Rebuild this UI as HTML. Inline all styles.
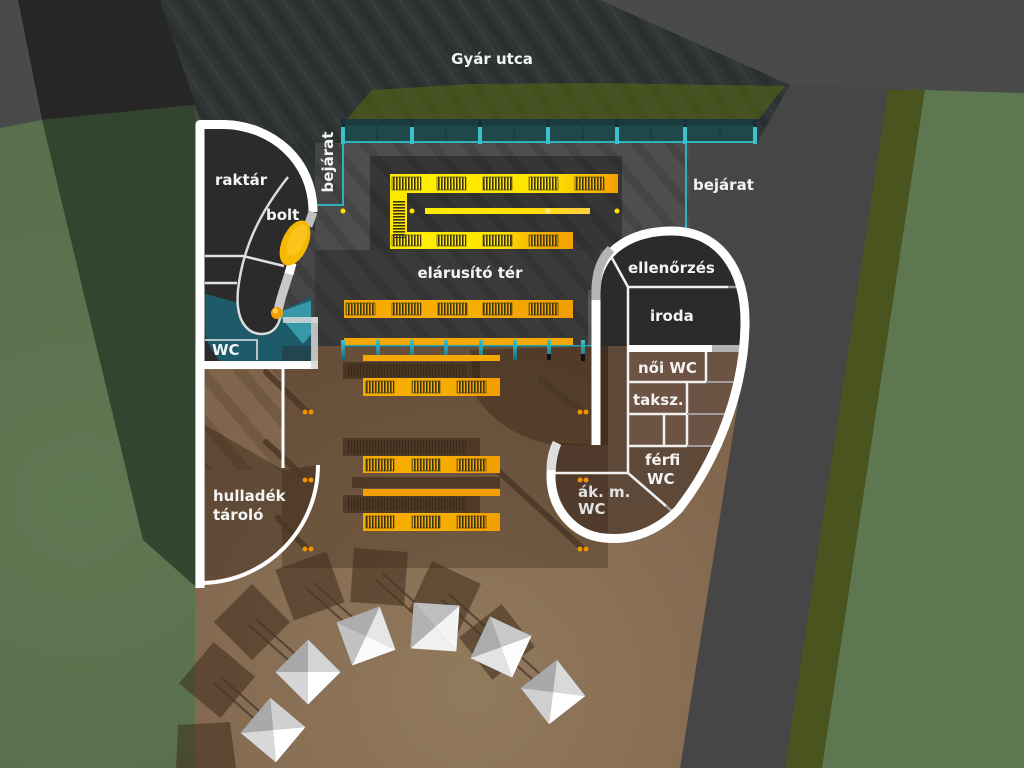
<!DOCTYPE html>
<html><head><meta charset="utf-8">
<style>
html,body{margin:0;padding:0;background:#464646;}
svg{display:block;}
text{font-family:"DejaVu Sans","Liberation Sans",sans-serif;font-weight:bold;fill:#f4f4f4;font-size:15px;}
</style></head><body>
<svg width="1024" height="768" viewBox="0 0 1024 768" xmlns="http://www.w3.org/2000/svg">
<defs>
 <pattern id="st" width="24" height="24" patternUnits="userSpaceOnUse" patternTransform="rotate(-35)">
  <rect width="24" height="24" fill="#303636"/>
  <rect width="8" height="24" fill="#2a3030"/>
  <rect x="14" width="3" height="24" fill="#363c3c"/>
 </pattern>
 <pattern id="st2" width="26" height="26" patternUnits="userSpaceOnUse" patternTransform="rotate(-40)">
  <rect width="9" height="26" fill="#000" fill-opacity="0.11"/>
 </pattern>
 <pattern id="st3" width="30" height="30" patternUnits="userSpaceOnUse" patternTransform="rotate(-40)">
  <rect width="11" height="30" fill="#2a1a0c" fill-opacity="0.18"/>
 </pattern>
 <pattern id="gv" width="3" height="20" patternUnits="userSpaceOnUse">
  <rect width="1.6" height="20" fill="#3b3518"/>
 </pattern>
 <pattern id="gh" width="20" height="3" patternUnits="userSpaceOnUse">
  <rect width="20" height="1.6" fill="#3b3518"/>
 </pattern>
 <pattern id="gs" width="3" height="20" patternUnits="userSpaceOnUse">
  <rect width="1.4" height="20" fill="#2a1c10" fill-opacity="0.5"/>
 </pattern>
 <linearGradient id="yg" x1="0" x2="1" y1="0" y2="0">
  <stop offset="0" stop-color="#fff000"/><stop offset="0.7" stop-color="#ffe400"/><stop offset="1" stop-color="#f5a000"/>
 </linearGradient>
 <linearGradient id="yg2" x1="0" x2="1" y1="0" y2="0">
  <stop offset="0" stop-color="#fff000"/><stop offset="0.6" stop-color="#ffe400"/><stop offset="0.8" stop-color="#f7b000"/><stop offset="1" stop-color="#f5a000"/>
 </linearGradient>
 <linearGradient id="ym" x1="0" x2="1" y1="0" y2="0">
  <stop offset="0" stop-color="#ffec00"/><stop offset="0.6" stop-color="#ffe000"/><stop offset="1" stop-color="#ffd040"/>
 </linearGradient>
 <linearGradient id="og" x1="0" x2="1" y1="0" y2="0">
  <stop offset="0" stop-color="#f5a800"/><stop offset="0.5" stop-color="#f7b000"/><stop offset="1" stop-color="#f29e00"/>
 </linearGradient>
 <linearGradient id="post" x1="0" x2="0" y1="0" y2="1">
  <stop offset="0" stop-color="#3ec0ca"/><stop offset="1" stop-color="#1a6a78"/>
 </linearGradient>
 <radialGradient id="pl" cx="470" cy="690" r="360" gradientUnits="userSpaceOnUse">
  <stop offset="0" stop-color="#927a5d"/><stop offset="1" stop-color="#80654c"/>
 </radialGradient>
 <radialGradient id="gl" cx="80" cy="500" r="300" gradientUnits="userSpaceOnUse">
  <stop offset="0" stop-color="#5f7852"/><stop offset="1" stop-color="#58704c"/>
 </radialGradient>
 <clipPath id="rb"><path d="M596,445 L596,292 C596,252 630,231 672,231 C718,231 746,268 745,325 C744,392 716,462 678,510 C656,532 632,541 604,538 C574,535 552,510 551,478 C551,462 553,452 557,443 Z"/></clipPath>
 <clipPath id="wcclip"><rect x="205" y="285" width="106" height="76"/></clipPath>
</defs>

<rect width="1024" height="768" fill="#464646"/>
<polygon points="600,0 1024,0 1024,92 925,90 790,85" fill="#4a4a4a"/>

<polygon points="160,0 600,0 790,85 757,143 315,143 315,232 200,118" fill="url(#st)"/>
<polygon points="18,0 160,0 200,118 195,106 42,120" fill="#262626"/>
<polygon points="0,0 18,0 42,120 0,128" fill="#4a4a4a"/>

<polygon points="0,128 42,120 195,105 195,768 0,768" fill="url(#gl)"/>
<polygon points="42,120 195,105 195,586 143,540" fill="#33452f"/>

<polygon points="888,90 925,90 822,768 785,768" fill="#4a541e"/>
<polygon points="925,90 1024,93 1024,768 822,768" fill="#5d7750"/>

<polygon points="195,346 747,346 680,768 195,768" fill="url(#pl)"/>

<rect x="343" y="143" width="347" height="107" fill="#4e4e4e"/>
<rect x="315" y="205" width="28" height="45" fill="#4b4b4b"/>
<rect x="370" y="156" width="252" height="94" fill="#363636"/>
<rect x="315" y="250" width="285" height="96" fill="#3a3a3a"/>
<rect x="280" y="143" width="410" height="203" fill="url(#st2)"/>

<polygon points="345,121 372,90 470,84 600,83 785,86 757,121" fill="#5a6a10" fill-opacity="0.55"/>

<rect x="343" y="119" width="414" height="24" fill="#1f4949"/>
<rect x="343" y="119" width="414" height="6" fill="#1a3b3e"/>
<g stroke="#163838" stroke-width="1">
 <line x1="377" y1="125" x2="377" y2="141"/><line x1="446" y1="125" x2="446" y2="141"/><line x1="514" y1="125" x2="514" y2="141"/>
 <line x1="583" y1="125" x2="583" y2="141"/><line x1="651" y1="125" x2="651" y2="141"/><line x1="720" y1="125" x2="720" y2="141"/>
</g>
<rect x="343" y="141" width="414" height="2" fill="#2fb3bf"/>
<g>
 <rect x="341" y="119" width="4" height="8" fill="#1b2e3c"/><rect x="341" y="127" width="4" height="17" fill="#3ec0ca"/>
 <rect x="410" y="119" width="4" height="8" fill="#1b2e3c"/><rect x="410" y="127" width="4" height="17" fill="#3ec0ca"/>
 <rect x="478" y="119" width="4" height="8" fill="#1b2e3c"/><rect x="478" y="127" width="4" height="17" fill="#3ec0ca"/>
 <rect x="546" y="119" width="4" height="8" fill="#1b2e3c"/><rect x="546" y="127" width="4" height="17" fill="#3ec0ca"/>
 <rect x="615" y="119" width="4" height="8" fill="#1b2e3c"/><rect x="615" y="127" width="4" height="17" fill="#3ec0ca"/>
 <rect x="683" y="119" width="4" height="8" fill="#1b2e3c"/><rect x="683" y="127" width="4" height="17" fill="#3ec0ca"/>
 <rect x="753" y="119" width="4" height="8" fill="#1b2e3c"/><rect x="753" y="127" width="4" height="17" fill="#3ec0ca"/>
</g>
<path d="M343,143 L343,205 L315,205" stroke="#2fb3bf" stroke-width="2" fill="none"/>
<path d="M686,143 L686,248" stroke="#2fb3bf" stroke-width="2" fill="none"/>

<rect x="390" y="174" width="228" height="19" fill="url(#yg)"/>
<rect x="390" y="232" width="183" height="17" fill="url(#yg2)"/>
<rect x="390" y="174" width="17" height="75" fill="#ffe800"/>
<rect x="393" y="200" width="12" height="38" fill="url(#gh)"/>
<rect x="425" y="208" width="165" height="6" fill="url(#ym)"/>
<g fill="url(#gv)" stroke="#3b3518" stroke-width="0.6">
 <rect x="392" y="177" width="29" height="13"/><rect x="437" y="177" width="29" height="13"/><rect x="483" y="177" width="29" height="13"/><rect x="529" y="177" width="29" height="13"/><rect x="575" y="177" width="29" height="13"/>
 <rect x="392" y="235" width="29" height="11"/><rect x="437" y="235" width="29" height="11"/><rect x="483" y="235" width="29" height="11"/><rect x="529" y="235" width="29" height="11"/>
</g>
<g fill="#ffe000"><circle cx="343" cy="211" r="2.5"/><circle cx="412" cy="211" r="2.5"/><circle cx="617" cy="211" r="2.5"/><circle cx="548" cy="211" r="2.5" fill="#ffe680"/></g>

<rect x="344" y="300" width="229" height="18" fill="url(#og)"/>
<g fill="url(#gv)" stroke="#3b3518" stroke-width="0.6">
 <rect x="346" y="303" width="29" height="12"/><rect x="392" y="303" width="29" height="12"/><rect x="438" y="303" width="29" height="12"/><rect x="483" y="303" width="29" height="12"/><rect x="529" y="303" width="29" height="12"/>
</g>
<rect x="344" y="338" width="229" height="7" fill="#f5a800"/>
<rect x="343" y="345" width="257" height="2" fill="#2aa0ad"/>

<rect x="588" y="290" width="40" height="56" fill="#bfe8ee" fill-opacity="0.18"/>

<!-- LEFT BUILDING fills -->
<path d="M200,121 L225,121 C272,123 314,160 315,212 L309,226 L294,262 L280,318 L312,318 L312,362 L200,362 Z" fill="#2b2b2b"/>
<g clip-path="url(#wcclip)">
 <path d="M277,313 L345,281 A75,75 0 1 1 204.6,293.6 Z" fill="#1d5a6a"/>
 <path d="M277,313 L314.6,299.3 A40,40 0 0 1 302.7,343.6 Z" fill="#3fa9b8" fill-opacity="0.8"/>
</g>
<path d="M288,177 C262,210 243,245 238,290 C235,322 248,334 262,334 C272,334 278,327 280,318 L294,262 L309,226 L315,212 C310,198 300,186 288,177 Z" fill="#2b2b2b"/>
<path d="M205,425 L283,470 L318,465 A118,118 0 0 1 205,583 Z" fill="#2d1e12" fill-opacity="0.4"/>
<rect x="205" y="370" width="78" height="100" fill="url(#st3)"/>

<!-- RIGHT BUILDING fills -->
<g clip-path="url(#rb)">
 <rect x="540" y="220" width="220" height="126" fill="#2b2b2b"/>
 <rect x="540" y="346" width="220" height="210" fill="#5e4838"/>
 <rect x="628" y="352" width="120" height="95" fill="#6c5343"/>
</g>

<rect x="282" y="346" width="326" height="222" fill="#2d1c0c" fill-opacity="0.3"/>
<path d="M470,350 L608,346 L608,445 L555,445 C520,440 490,420 475,395 Z" fill="#2a1a0c" fill-opacity="0.35"/>

<g stroke="#4a3726" stroke-width="6" stroke-linecap="round" stroke-opacity="0.85">
 <line x1="266" y1="372" x2="306" y2="411"/>
 <line x1="266" y1="442" x2="306" y2="479"/>
 <line x1="278" y1="518" x2="306" y2="548"/>
 <line x1="495" y1="468" x2="582" y2="548"/>
 <line x1="540" y1="380" x2="582" y2="411"/>
</g>

<g fill="#2a1a0c" fill-opacity="0.45">
 <rect x="343" y="362" width="137" height="17"/>
 <rect x="343" y="438" width="137" height="18"/>
 <rect x="352" y="477" width="148" height="11"/>
 <rect x="343" y="495" width="137" height="18"/>
</g>
<g fill="url(#gs)">
 <rect x="346" y="364" width="120" height="13"/><rect x="346" y="440" width="120" height="14"/><rect x="346" y="497" width="120" height="14"/>
</g>
<g fill="url(#post)">
 <rect x="341" y="340" width="4" height="20"/><rect x="376" y="340" width="4" height="20"/><rect x="410" y="340" width="4" height="20"/><rect x="444" y="340" width="4" height="20"/>
 <rect x="479" y="340" width="4" height="20"/><rect x="513" y="340" width="4" height="20"/><rect x="547" y="340" width="4" height="20"/><rect x="581" y="340" width="4" height="20"/>
</g>
<rect x="547" y="354" width="4" height="6" fill="#111"/><rect x="581" y="354" width="4" height="7" fill="#111"/>

<rect x="363" y="355" width="137" height="6" fill="#f5a800"/>
<rect x="363" y="378" width="137" height="18" fill="url(#og)"/>
<rect x="363" y="456" width="137" height="17" fill="url(#og)"/>
<rect x="363" y="489" width="137" height="7" fill="#f2a000"/>
<rect x="363" y="513" width="137" height="18" fill="url(#og)"/>
<g fill="url(#gv)" stroke="#3b3518" stroke-width="0.6">
 <rect x="366" y="381" width="28" height="12"/><rect x="412" y="381" width="28" height="12"/><rect x="457" y="381" width="29" height="12"/>
 <rect x="366" y="459" width="28" height="12"/><rect x="412" y="459" width="28" height="12"/><rect x="457" y="459" width="29" height="12"/>
 <rect x="366" y="516" width="28" height="12"/><rect x="412" y="516" width="28" height="12"/><rect x="457" y="516" width="29" height="12"/>
</g>
<g fill="#f29200">
 <circle cx="305" cy="412" r="2.5"/><circle cx="311" cy="412" r="2.5"/><circle cx="580" cy="412" r="2.5"/><circle cx="586" cy="412" r="2.5"/>
 <circle cx="305" cy="480" r="2.5"/><circle cx="311" cy="480" r="2.5"/><circle cx="580" cy="480" r="2.5"/><circle cx="586" cy="480" r="2.5"/>
 <circle cx="305" cy="549" r="2.5"/><circle cx="311" cy="549" r="2.5"/><circle cx="580" cy="549" r="2.5"/><circle cx="586" cy="549" r="2.5"/>
</g>

<!-- LEFT BUILDING walls -->
<g fill="none" stroke-linecap="butt">
 <path d="M288,177 C262,210 243,245 238,290 C235,322 248,334 262,334 C272,334 278,327 280,318" stroke="#dcdcdc" stroke-width="2.5"/>
 <path d="M205,256 L243,256 L284,266" stroke="#e0e0e0" stroke-width="2.5"/>
 <path d="M205,283 L237,283" stroke="#e0e0e0" stroke-width="2.5"/>
 <path d="M205,340 L257,340 L257,360" stroke="#b8c4c8" stroke-width="2"/>
 <path d="M200,588 L200,124.5 L225,124.5 C272,126 313,160 313,212" stroke="#fff" stroke-width="9" stroke-linejoin="round"/>
 <path d="M313,212 L308,226" stroke="#c0c0c0" stroke-width="9"/>
 <path d="M292,263 C286,285 279,300 277,318" stroke="#c8c8c8" stroke-width="9"/>
 <path d="M292,263 L289,274" stroke="#fff" stroke-width="9"/>
 <path d="M283,369 L283,468" stroke="#fff" stroke-width="3"/>
 <path d="M318,465 A118,118 0 0 1 200,583" stroke="#fff" stroke-width="4"/>
</g>
<ellipse cx="295" cy="243" rx="13" ry="24" transform="rotate(24 295 243)" fill="#f6b800"/>
<ellipse cx="297" cy="240" rx="8" ry="17" transform="rotate(24 297 240)" fill="#ffcc30" fill-opacity="0.6"/>
<circle cx="277" cy="313" r="6" fill="#f5a000"/><circle cx="275.5" cy="311" r="2.5" fill="#ffd060"/>
<rect x="196" y="361" width="122" height="8" fill="#fff"/>
<rect x="283" y="317" width="35" height="6" fill="#d6d6d6" fill-opacity="0.85"/>
<rect x="311" y="317" width="7" height="52" fill="#d6d6d6" fill-opacity="0.85"/>

<!-- RIGHT BUILDING walls -->
<g fill="none">
 <path d="M612,258 L628,287 L728,287" stroke="#f0f0f0" stroke-width="2.5"/>
 <path d="M728,287 L742,287" stroke="#9a9a9a" stroke-width="2.5"/>
 <path d="M628,287 L628,473" stroke="#f0f0f0" stroke-width="2.5"/>
 <path d="M628,348.5 L712,348.5" stroke="#fff" stroke-width="7"/>
 <path d="M712,348.5 L742,348.5" stroke="#b0b0b0" stroke-width="7"/>
 <path d="M628,382 L706,382 M706,352 L706,382 M628,414 L687,414 M687,382 L687,446 M664,414 L664,446 M628,446 L687,446" stroke="#f0f0f0" stroke-width="2.5"/>
 <path d="M706,382 L737,382 M687,414 L732,414 M687,446 L722,446" stroke="#a0a0a0" stroke-width="2"/>
 <path d="M553,473 L628,473 L666,506" stroke="#f0f0f0" stroke-width="2.5"/>
 <path d="M666,506 L675,514" stroke="#a0a0a0" stroke-width="2.5"/>
 <path d="M596,445 L596,292 C596,252 630,231 672,231 C718,231 746,268 745,325 C744,392 716,462 678,510 C656,532 632,541 604,538 C574,535 552,510 551,478 C551,462 553,452 557,443" stroke="#fff" stroke-width="9"/>
 <path d="M596,300 L596,292 C596,272 601,259 611,249" stroke="#b4b4b4" stroke-width="9"/>
 <path d="M551,470 C551,460 553,451 557,443" stroke="#dedede" stroke-width="9"/>
</g>

<!-- umbrella shadows -->
<g fill="#3e2c1c" fill-opacity="0.55">
 <rect x="-27" y="-27" width="54" height="54" transform="translate(252,622) rotate(45)"/>
 <rect x="-27" y="-27" width="54" height="54" transform="translate(310,586) rotate(-20)"/>
 <rect x="-27" y="-27" width="54" height="54" transform="translate(379,577) rotate(4)"/>
 <rect x="-27" y="-27" width="54" height="54" transform="translate(445,597) rotate(25)"/>
 <rect x="-27" y="-27" width="54" height="54" transform="translate(497,642) rotate(52)"/>
 <rect x="-27" y="-27" width="54" height="54" transform="translate(217,680) rotate(40)"/>
 <polygon points="178,725 230,722 236,768 176,768"/>
</g>
<g stroke="#4a3726" stroke-width="2" stroke-opacity="0.8">
 <line x1="249" y1="625" x2="305" y2="675"/><line x1="256" y1="619" x2="312" y2="669"/>
 <line x1="307" y1="589" x2="363" y2="639"/><line x1="314" y1="583" x2="370" y2="633"/>
 <line x1="376" y1="580" x2="432" y2="630"/><line x1="383" y1="574" x2="439" y2="624"/>
 <line x1="442" y1="600" x2="498" y2="650"/><line x1="449" y1="594" x2="505" y2="644"/>
 <line x1="494" y1="645" x2="550" y2="695"/><line x1="501" y1="639" x2="557" y2="689"/>
 <line x1="214" y1="683" x2="270" y2="733"/><line x1="221" y1="677" x2="277" y2="727"/>
</g>

<!-- umbrellas -->
<g transform="translate(308,672) rotate(45)">
 <polygon points="-23,-23 23,-23 0,0" fill="rgb(212,212,212)"/><polygon points="23,-23 23,23 0,0" fill="#fff"/>
 <polygon points="23,23 -23,23 0,0" fill="rgb(214,214,214)"/><polygon points="-23,23 -23,-23 0,0" fill="rgb(169,169,169)"/>
</g>
<g transform="translate(366,636) rotate(-20)">
 <polygon points="-23,-23 23,-23 0,0" fill="rgb(173,173,173)"/><polygon points="23,-23 23,23 0,0" fill="rgb(230,230,230)"/>
 <polygon points="23,23 -23,23 0,0" fill="rgb(251,251,251)"/><polygon points="-23,23 -23,-23 0,0" fill="rgb(194,194,194)"/>
</g>
<g transform="translate(435,627) rotate(4)">
 <polygon points="-23,-23 23,-23 0,0" fill="rgb(190,190,190)"/><polygon points="23,-23 23,23 0,0" fill="rgb(244,244,244)"/>
 <polygon points="23,23 -23,23 0,0" fill="rgb(240,240,240)"/><polygon points="-23,23 -23,-23 0,0" fill="rgb(178,178,178)"/>
</g>
<g transform="translate(501,647) rotate(25)">
 <polygon points="-23,-23 23,-23 0,0" fill="rgb(200,200,200)"/><polygon points="23,-23 23,23 0,0" fill="rgb(252,252,252)"/>
 <polygon points="23,23 -23,23 0,0" fill="rgb(227,227,227)"/><polygon points="-23,23 -23,-23 0,0" fill="rgb(172,172,172)"/>
</g>
<g transform="translate(553,692) rotate(52)">
 <polygon points="-23,-23 23,-23 0,0" fill="rgb(217,217,217)"/><polygon points="23,-23 23,23 0,0" fill="#fff"/>
 <polygon points="23,23 -23,23 0,0" fill="rgb(207,207,207)"/><polygon points="-23,23 -23,-23 0,0" fill="rgb(169,169,169)"/>
</g>
<g transform="translate(273,730) rotate(40)">
 <polygon points="-23,-23 23,-23 0,0" fill="rgb(208,208,208)"/><polygon points="23,-23 23,23 0,0" fill="#fff"/>
 <polygon points="23,23 -23,23 0,0" fill="rgb(216,216,216)"/><polygon points="-23,23 -23,-23 0,0" fill="rgb(169,169,169)"/>
</g>

<!-- labels -->
<text x="492" y="64" text-anchor="middle">Gyár utca</text>
<text transform="translate(333,162) rotate(-90)" text-anchor="middle">bejárat</text>
<text x="693" y="190">bejárat</text>
<text x="215" y="185">raktár</text>
<text x="266" y="220">bolt</text>
<text x="212" y="355">WC</text>
<text x="470" y="278" text-anchor="middle">elárusító tér</text>
<text x="213" y="501">hulladék</text>
<text x="213" y="520">tároló</text>
<text x="628" y="273">ellenőrzés</text>
<text x="650" y="321">iroda</text>
<text x="638" y="373">női WC</text>
<text x="633" y="405">taksz.</text>
<text x="645" y="465">férfi</text>
<text x="647" y="484">WC</text>
<text x="578" y="497" style="fill:#e2e2e2">ák. m.</text>
<text x="578" y="514" style="fill:#e2e2e2">WC</text>
</svg>
</body></html>
